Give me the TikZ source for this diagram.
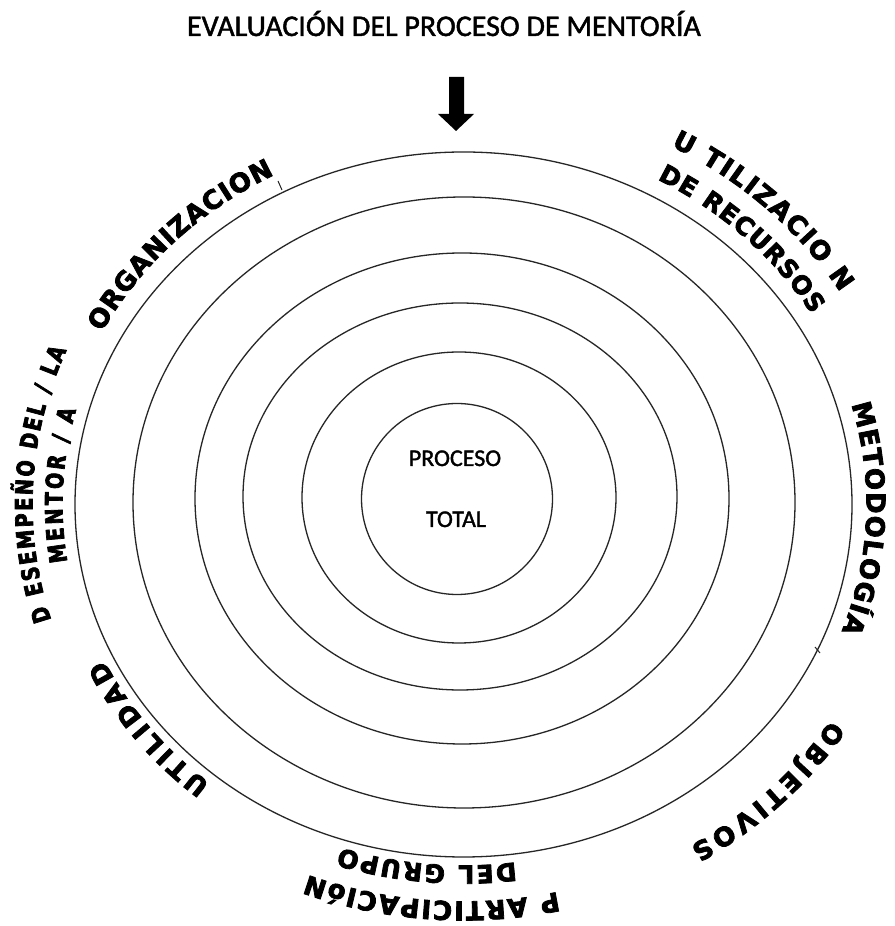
\documentclass[tikz,border=0pt]{standalone}
\usepackage{fontspec}
\setmainfont{Carlito}
\newfontfamily\titlefont{Carlito}[FakeBold=1.5]
\newfontfamily\lblfont{DejaVu Sans}[BoldFeatures={FakeBold=3}]
\newfontfamily\lblcond{DejaVu Sans}[BoldFeatures={FakeBold=3, FakeStretch=0.8}]
\usetikzlibrary{decorations.text}
\tikzset{
  ring/.style={draw=black!85, line width=1.3pt},
  plain/.style={font=\titlefont\fontsize{24}{28}\selectfont, inner sep=0pt},
}
% #1 start angle, #2 x radius, #3 y radius, #4 end angle, #5 font, #6 text
\newcommand\curvetext[6]{%
  \path[shift={(463.5,421.5)}, decorate, decoration={text along path,
      text format delimiters={|}{|},
      text={|#5|#6},
      text align={fit to path}, raise=-9.5pt}]
    (#1:#2pt and #3pt) arc[start angle=#1, end angle=#4, x radius=#2pt, y radius=#3pt];}
\newcommand\fa{\lblfont\bfseries\fontsize{26}{30}\selectfont}
\newcommand\fb{\lblfont\bfseries\fontsize{25}{29}\selectfont}
\newcommand\fc{\lblcond\bfseries\fontsize{24}{28}\selectfont}
\begin{document}
\begin{tikzpicture}[x=1pt,y=1pt]
\useasboundingbox (0,0) rectangle (894,926);
\fill[white] (0,0) rectangle (894,926);
% title
\node[font=\titlefont\fontsize{30}{35}\selectfont, anchor=base, inner sep=0pt] (title) at (444,890) {EVALUACIÓN DEL PROCESO DE MENTORÍA};
% arrow
\fill[black] (449,849) -- (464,849) -- (464,812) -- (474,812) -- (456,795) -- (438,812) -- (449,812) -- cycle;
% rings
\draw[ring] (463.5,421.5) ellipse [x radius=388.5, y radius=352.5];
\draw[ring] (464,423.5) ellipse [x radius=331, y radius=305.5];
\draw[ring] (462,427.5) ellipse [x radius=267, y radius=245.5];
\draw[ring] (460,429.5) ellipse [x radius=217, y radius=193.5];
\draw[ring] (459,428.5) ellipse [x radius=157, y radius=145.5];
\node[ring, circle, minimum size=191pt, inner sep=0pt] (core) at (457,427) {};
\node[plain, anchor=base] (proc) at (455,460) {PROCESO};
\node[plain, anchor=base] (tot) at (456,399) {TOTAL};
% small ticks
\draw[black!85, line width=1pt] (278,745) -- (282,736);
\draw[black!85, line width=1pt] (815,279) -- (820,273);
% curved labels
\curvetext{152.3}{417.5}{381.5}{117.6}{\fa}{ORGANIZACION}
\curvetext{62.0}{451.5}{415.5}{31.6}{\fa}{U TILIZACIO N}
\curvetext{61.5}{415.5}{379.5}{31.0}{\fb}{DE RECURSOS}
\curvetext{15.8}{412.5}{376.5}{-20.2}{\fa}{METODOLOGÍA}
\curvetext{197}{440.5}{404.5}{157}{\fc}{D ESEMPEÑO DEL / LA}
\curvetext{189}{410.5}{374.5}{165}{\fc}{MENTOR / A}
\curvetext{230.5}{407.5}{371.5}{205.5}{\fa}{UTILIDAD}
\curvetext{-32.7}{445.5}{409.5}{-58.7}{\fa}{OBJETIVOS}
\curvetext{-77.5}{442.5}{406.5}{-111}{\fa}{P ARTICIPACIóN}
\curvetext{-82.5}{406.5}{370.5}{-108}{\fb}{DEL GRUPO}
\end{tikzpicture}
\end{document}
